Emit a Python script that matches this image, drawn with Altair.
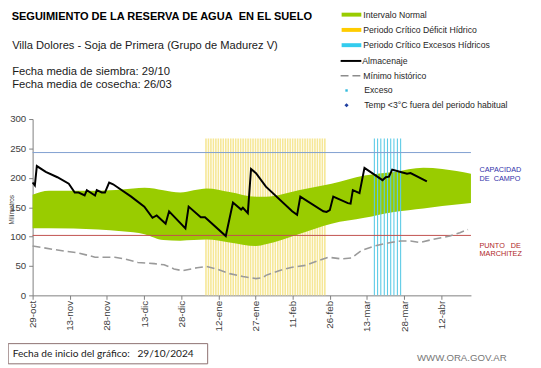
import altair as alt
import pandas as pd
import json

FONT = "Liberation Sans"
NB = "\u00a0"

# ---------------- data ----------------
tick_days = [0, 15, 30, 45, 60, 75, 90, 105, 120, 135, 150, 165]
tick_labels = ["29-oct", "13-nov", "28-nov", "13-dic", "28-dic", "12-ene",
               "27-ene", "11-feb", "26-feb", "13-mar", "28-mar", "12-abr"]
y_ticks = [0, 50, 100, 150, 200, 250, 300]

band_days = [0, 6.6, 26.5, 36, 45.2, 52.8, 59.6, 65, 70.3, 79.5, 90.2, 94.2,
             107.4, 120.7, 134, 145.9, 157.8, 165.4, 177]
band_upper = [171, 178, 178, 180, 183, 179, 175, 179, 182, 176, 168, 168,
              179, 190, 204, 210, 217, 215, 207]
band_lower = [114, 114, 112, 109, 104, 94, 93, 94, 95, 90, 84, 87,
              104, 122, 132, 142, 148, 152, 157]

min_days = [0, 9.3, 18.6, 25.2, 33.2, 37.2, 42.5, 49.1, 53.1, 57.1, 60.4, 66.4,
            70.3, 74.3, 79.6, 84.9, 90.2, 92.9, 94.2, 99.5, 104.8, 110.1, 115.4,
            119.4, 124.7, 128.7, 132.7, 138, 144.6, 148.6, 152.6, 156.5, 161.8,
            168.5, 172.5, 175.8]
min_values = [84, 77.6, 72, 65, 65, 62, 56, 54, 52, 45, 42, 47,
              49, 45, 37, 32, 28.5, 30, 34, 42, 48, 51, 59,
              65, 62, 63.6, 76, 84, 90, 92.6, 92.6, 90, 95.5,
              101, 106.7, 112]

alm_days = [0, 0.9, 1.7, 5.3, 10, 14.6, 17, 18.6, 21, 21.9, 25.2, 25.9, 27.9,
            29.2, 30.9, 32.5, 39.8, 45.1, 48.4, 50.1, 53.7, 55.1, 61.7, 63,
            67.9, 69.6, 78, 80.9, 84.2, 84.9, 86.9, 88.2, 90.2, 94.2, 104.8,
            106.8, 108.1, 117.4, 118.7, 120, 121.4, 127.3, 128.4, 129.3, 132,
            134, 141.3, 142.6, 143.9, 145.2, 148.6, 151.2, 152.6, 159.2]
alm_values = [192, 187, 220, 210, 201, 190, 175, 175, 170, 179, 170, 179, 175,
              175, 192, 189, 168, 151, 132, 136, 122, 143, 114, 151,
              133, 133, 101, 158, 146, 149, 140, 215, 208, 185, 143,
              137, 168, 143, 142, 145, 168, 157, 156, 179, 174,
              217, 196, 201, 202, 214, 210, 207, 208, 194]

yellow_days = [70, 71, 72, 73, 74, 75, 76, 77, 78, 79, 80, 81, 82, 83, 84, 85,
               86, 87, 88, 89, 90, 91, 92, 93, 94, 95, 96, 97, 98, 99, 100,
               101, 102, 103, 104, 105, 106, 107, 108, 109, 110, 111, 112, 113,
               114, 115, 116, 117, 118]
cyan_days = [138, 139.3, 140.6, 142, 143.3, 144.6, 145.9, 147.3, 148.6]
period_top = 267
capacidad = 243
marchitez = 102

# ---------------- tables ----------------
band_df = pd.DataFrame({"day": band_days, "up": band_upper, "lo": band_lower})
min_df = pd.DataFrame({"day": min_days, "v": min_values})
alm_df = pd.DataFrame({"day": alm_days, "v": alm_values})
yel_df = pd.DataFrame({"day": yellow_days, "z": 0, "top": period_top})
cya_df = pd.DataFrame({"day": cyan_days, "z": 0, "top": period_top})
cap_df = pd.DataFrame({"v": [capacidad]})
mar_df = pd.DataFrame({"v": [marchitez]})
one = pd.DataFrame({"k": [0]})

label_expr = "{}[indexof({}, datum.value)]".format(json.dumps(tick_labels), json.dumps(tick_days))

xscale = alt.Scale(domain=[0, 177], nice=False, zero=False)
yscale = alt.Scale(domain=[0, 300], nice=False)
xaxis = alt.Axis(values=tick_days, labelExpr=label_expr, labelAngle=270, title=None,
                 grid=False, labelFont=FONT, labelFontSize=10, labelColor="#404040",
                 tickSize=4, labelPadding=1, labelFlush=False, labelOverlap=False,
                 labelBound=False, domainColor="#7f7f7f", tickColor="#7f7f7f")
yaxis = alt.Axis(values=y_ticks, title=None, grid=False, labelFont=FONT,
                 labelFontSize=9.8, labelColor="#404040", tickSize=4, labelPadding=3,
                 domainColor="#7f7f7f", tickColor="#7f7f7f")


def X(f):
    return alt.X(f, type="quantitative", scale=xscale, axis=xaxis)


def Y(f):
    return alt.Y(f, type="quantitative", scale=yscale, axis=yaxis)


yellow = alt.Chart(yel_df).mark_rule(color="#F6E796", strokeWidth=1.6).encode(
    x=X("day"), y=Y("z"), y2="top")
band = alt.Chart(band_df).mark_area(color="#99CC00", interpolate="monotone").encode(
    x=X("day"), y=Y("up"), y2="lo")
cyan = alt.Chart(cya_df).mark_rule(color="#5CCBE6", strokeWidth=1.1).encode(
    x=X("day"), y=Y("z"), y2="top")
cap = alt.Chart(cap_df).mark_rule(color="#7F9FD0", strokeWidth=1).encode(y=Y("v"))
mar = alt.Chart(mar_df).mark_rule(color="#C0504D", strokeWidth=1).encode(y=Y("v"))
minl = alt.Chart(min_df).mark_line(color="#9A9A9A", strokeWidth=1.6, strokeDash=[8, 4]).encode(
    x=X("day"), y=Y("v"))
alm = alt.Chart(alm_df).mark_line(color="#000000", strokeWidth=2).encode(
    x=X("day"), y=Y("v"))

# ---------------- annotations ----------------
OX, OY = 33.3, 118.0


def txt(s, x, y, size, color="#000000", weight="normal", font=FONT, align="left", angle=0):
    return alt.Chart(one).mark_text(text=s, fontSize=size, color=color, fontWeight=weight,
                                    font=font, align=align, baseline="middle", angle=angle).encode(
        x=alt.value(x - OX), y=alt.value(y - OY))


def rect(x1, x2, y1, y2, fill, stroke=None):
    kw = {"color": fill}
    if stroke:
        kw = {"fill": fill, "stroke": stroke, "strokeWidth": 1}
    return alt.Chart(one).mark_rect(**kw).encode(
        x=alt.value(x1 - OX), x2=alt.value(x2 - OX), y=alt.value(y1 - OY), y2=alt.value(y2 - OY))


def hline(x1, x2, y, color, width, dash=None):
    kw = {"color": color, "strokeWidth": width}
    if dash:
        kw["strokeDash"] = dash
    return alt.Chart(one).mark_rule(**kw).encode(
        x=alt.value(x1 - OX), x2=alt.value(x2 - OX), y=alt.value(y - OY))


ann = [
    txt("SEGUIMIENTO DE LA RESERVA DE AGUA" + NB + NB + "EN EL SUELO", 12, 14, 11.2, weight="bold"),
    txt("Villa Dolores - Soja de Primera (Grupo de Madurez V)", 12.5, 44, 11.3, color="#1a1a1a"),
    txt("Fecha media de siembra: 29/10", 12.5, 70.5, 11.4, color="#1a1a1a"),
    txt("Fecha media de cosecha: 26/03", 12.5, 83.2, 11.4, color="#1a1a1a"),
    txt("Milímetros", 12, 210, 6.5, color="#404040", align="center", angle=270),
    txt("CAPACIDAD", 487, 170, 7.4, color="#3333AA"),
    txt("DE" + NB + NB + "CAMPO", 487, 179, 7.4, color="#3333AA"),
    txt("PUNTO" + NB + NB + NB + "DE", 487, 246.5, 7.4, color="#B02828"),
    txt("MARCHITEZ", 487, 255.5, 7.4, color="#B02828"),
    rect(8.5, 211, 346, 366.5, "#FFFFFF", stroke="#8C7070"),
    txt("Fecha de inicio del gráfico:" + NB + NB + NB + "29/10/2024", 13, 357, 10.3,
        color="#1a1a1a", font="Lato"),
    txt("WWW.ORA.GOV.AR", 423.5, 360.5, 9.8, color="#767676"),
]

leg_font = 8.8
leg_col = "#262626"
ann += [
    rect(347, 367, 10, 14, "#99CC00"),
    txt("Intervalo Normal", 369, 12, leg_font, color=leg_col),
    rect(347, 367, 25.5, 29.5, "#FFCC00"),
    txt("Periodo Crítico Déficit Hídrico", 369, 27.5, leg_font, color=leg_col),
    rect(347, 367, 41, 45, "#33CCEE"),
    txt("Periodo Crítico Excesos Hídricos", 369, 43, leg_font, color=leg_col),
    hline(346, 367, 59, "#000000", 2),
    txt("Almacenaje", 368, 59, leg_font, color=leg_col),
    hline(346, 367, 74, "#8C8C8C", 1.6, dash=[8, 4]),
    txt("Mínimo histórico", 369, 74, leg_font, color=leg_col),
    alt.Chart(one).mark_square(size=6, color="#33BBDD", opacity=1).encode(
        x=alt.value(352 - OX), y=alt.value(89 - OY)),
    txt("Exceso", 370, 89, leg_font, color=leg_col),
    alt.Chart(one).mark_point(shape="diamond", size=18, filled=True, color="#1F3FA0", opacity=1).encode(
        x=alt.value(352 - OX), y=alt.value(104 - OY)),
    txt("Temp <3°C fuera del periodo habitual", 370, 104, leg_font, color=leg_col),
]

chart = alt.layer(yellow, band, cyan, cap, mar, minl, alm, *ann).properties(
    width=445, height=179,
    autosize=alt.AutoSizeParams(type="none"),
    padding={"left": 25, "top": 110, "right": 63, "bottom": 71},
    background="#FFFFFF",
).configure_view(stroke=None)

chart.save("out.html", embed_options={"renderer": "svg", "actions": False})
